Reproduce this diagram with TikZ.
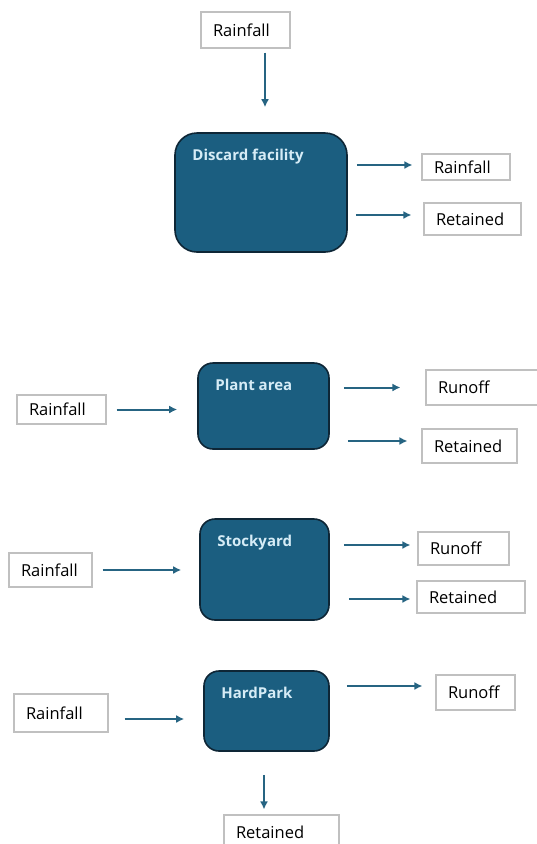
\documentclass[tikz,border=0pt]{standalone}
\usepackage{fontspec}
\setmainfont{Open Sans}
\usetikzlibrary{arrows.meta}

\definecolor{areafill}{RGB}{27,94,128}
\definecolor{arealine}{RGB}{14,38,54}
\definecolor{areatext}{RGB}{214,236,246}
\definecolor{flowblue}{RGB}{38,100,130}
\definecolor{boxgray}{RGB}{192,192,192}

\begin{document}
\begin{tikzpicture}
  [x=1pt, y=-1pt,
   tag/.style 2 args={draw=boxgray, line width=1.1pt, fill=white, inner ysep=0pt,
     inner xsep=12pt, text width=#1pt-24pt, align=left,
     minimum height=#2pt, font=\fontsize{16.5}{18}\selectfont},
   area/.style n args={4}{draw=arealine, fill=areafill, line width=1.6pt,
     rounded corners=#3pt, minimum width=#1pt, minimum height=#2pt,
     label={[anchor=north west, xshift=18pt, yshift=-17pt, inner sep=0pt,
       text=areatext, font=\fontsize{15}{18}\selectfont\bfseries]north west:#4}},
   flow/.style={draw=flowblue, line width=2pt, -{Latex[length=8pt,width=8pt]}}]

  \useasboundingbox (0,0) rectangle (537,844);
  \clip (0,0) rectangle (537,844);

  % discard facility
  \node[tag={89}{36}] (rain0) at (245.5,30) {Rainfall};
  \node[area={172}{119}{22}{Discard facility}] (df) at (261,192.5) {};
  \node[tag={88}{26}] (out1) at (466,167) {\raisebox{-3pt}{Rainfall}};
  \node[tag={97}{32}] (keep1) at (472.5,219) {Retained};

  \draw[flow, shorten <=4pt, shorten >=25pt] ([xshift=19.5pt]rain0.south) -- ([xshift=19.5pt]rain0.south |- df.north);
  \draw[flow, shorten <=9pt, shorten >=9pt] ([yshift=2pt]df.east |- out1.west) -- ([yshift=2pt]out1.west);
  \draw[flow, shorten <=8pt, shorten >=12pt] ([yshift=4pt]df.east |- keep1.west) -- ([yshift=4pt]keep1.west);

  % plant area
  \node[tag={89}{29}] (rain2) at (61.5,409.5) {Rainfall};
  \node[area={131}{86}{15}{Plant area}] (pa) at (263.5,406) {};
  \node[tag={115}{35}] (run2) at (483.5,387.5) {Runoff};
  \node[tag={95}{34}] (keep2) at (469.5,446) {Retained};

  \draw[flow, shorten <=10pt, shorten >=20pt] (rain2.east) -- (rain2.east -| pa.west);
  \draw[flow, shorten <=14pt, shorten >=25pt] (pa.east |- run2.west) -- (run2.west);
  \draw[flow, shorten <=18pt, shorten >=14pt] ([yshift=5pt]pa.east |- keep2.west) -- ([yshift=5pt]keep2.west);

  % stockyard
  \node[tag={83}{34}] (rain3) at (50.5,570) {Rainfall};
  \node[area={129}{101}{15}{Stockyard}] (sy) at (264.5,569.5) {};
  \node[tag={91}{33}] (run3) at (463.5,548.5) {Runoff};
  \node[tag={108}{32}] (keep3) at (471,597) {Retained};

  \draw[flow, shorten <=10pt, shorten >=18pt] (rain3.east) -- (rain3.east -| sy.west);
  \draw[flow, shorten <=14pt, shorten >=7pt] ([yshift=3.5pt]sy.east |- run3.west) -- ([yshift=3.5pt]run3.west);
  \draw[flow, shorten <=19pt, shorten >=6pt] ([yshift=-2pt]sy.east |- keep3.west) -- ([yshift=-2pt]keep3.west);

  % hard park
  \node[tag={94}{38}] (rain4) at (61,713) {Rainfall};
  \node[area={125}{80}{15}{HardPark}] (hp) at (266.5,711) {};
  \node[tag={79}{35}] (run4) at (475.5,692.5) {Runoff};
  \node[tag={115}{34}] (keep4) at (281.5,832) {Retained};

  \draw[flow, shorten <=16pt, shorten >=19pt] ([yshift=-6pt]rain4.east) -- ([yshift=-6pt]rain4.east -| hp.west);
  \draw[flow, shorten <=17pt, shorten >=13pt] ([yshift=6.5pt]hp.east |- run4.west) -- ([yshift=6.5pt]run4.west);
  \draw[flow, shorten <=23pt, shorten >=5pt] ([xshift=-2.5pt]hp.south) -- ([xshift=-2.5pt]hp.south |- keep4.north);
\end{tikzpicture}
\end{document}
